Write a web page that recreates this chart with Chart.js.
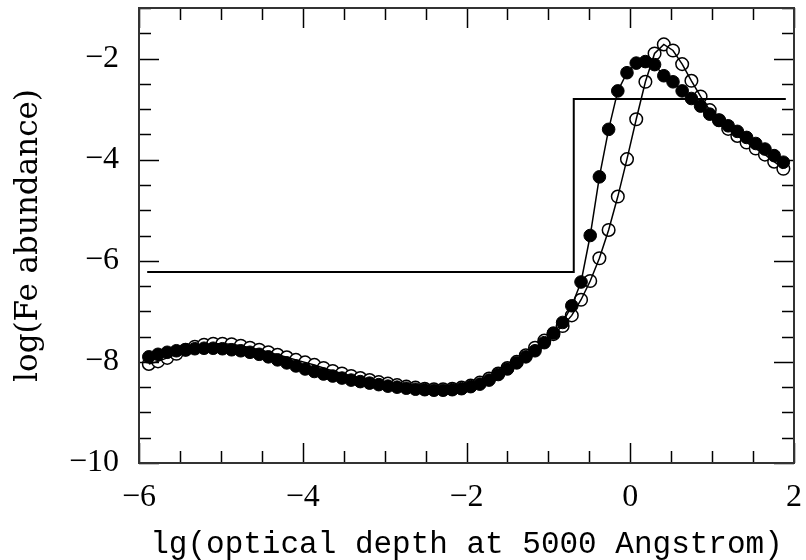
<!DOCTYPE html>
<html>
<head>
<meta charset="utf-8">
<title>Fe abundance</title>
<script src="https://cdn.jsdelivr.net/npm/chart.js@4.4.0/dist/chart.umd.min.js"></script>
<style>
  html, body { margin: 0; padding: 0; background: #fff; }
  #wrap { width: 806px; height: 560px; }
</style>
</head>
<body>
<div id="wrap"><canvas id="chart" width="806" height="560"></canvas></div>
<script>
// lg(tau_5000) depth grid, shared by both models
const depth = [
  -5.880, -5.768, -5.655, -5.543, -5.431, -5.318, -5.206, -5.094, -4.981, -4.869,
  -4.757, -4.645, -4.532, -4.420, -4.308, -4.195, -4.083, -3.971, -3.858, -3.746,
  -3.634, -3.521, -3.409, -3.297, -3.184, -3.072, -2.960, -2.848, -2.735, -2.623,
  -2.510, -2.398, -2.286, -2.174, -2.061, -1.949, -1.837, -1.724, -1.612, -1.500,
  -1.387, -1.275, -1.163, -1.050, -0.938, -0.826, -0.714, -0.601, -0.489, -0.377,
  -0.264, -0.152, -0.040, 0.073, 0.185, 0.297, 0.410, 0.522, 0.634, 0.747,
  0.859, 0.971, 1.084, 1.196, 1.308, 1.421, 1.533, 1.645, 1.758, 1.870
];

// filled circles
const feFilled = [
  -7.90, -7.85, -7.81, -7.78, -7.76, -7.74, -7.73, -7.73, -7.74, -7.76,
  -7.78, -7.81, -7.85, -7.90, -7.96, -8.02, -8.08, -8.14, -8.19, -8.24,
  -8.28, -8.32, -8.36, -8.39, -8.42, -8.45, -8.48, -8.50, -8.52, -8.54,
  -8.55, -8.56, -8.56, -8.55, -8.53, -8.49, -8.44, -8.36, -8.25, -8.14,
  -8.02, -7.90, -7.78, -7.62, -7.43, -7.22, -6.89, -6.42, -5.50, -4.34,
  -3.40, -2.64, -2.28, -2.09, -2.06, -2.12, -2.34, -2.46, -2.64, -2.79,
  -2.94, -3.10, -3.22, -3.33, -3.44, -3.56, -3.68, -3.79, -3.92, -4.05
];

// open circles
const feOpen = [
  -8.04, -7.99, -7.92, -7.84, -7.76, -7.70, -7.66, -7.64, -7.64, -7.65,
  -7.68, -7.72, -7.76, -7.81, -7.86, -7.91, -7.96, -8.01, -8.06, -8.12,
  -8.18, -8.23, -8.28, -8.32, -8.36, -8.40, -8.43, -8.46, -8.49, -8.51,
  -8.53, -8.54, -8.54, -8.53, -8.51, -8.47, -8.41, -8.33, -8.23, -8.12,
  -8.00, -7.87, -7.72, -7.58, -7.45, -7.29, -7.08, -6.77, -6.40, -5.95,
  -5.39, -4.73, -3.99, -3.20, -2.46, -1.90, -1.72, -1.84, -2.11, -2.44,
  -2.75, -3.02, -3.22, -3.39, -3.53, -3.66, -3.78, -3.90, -4.04, -4.18
];

// two-step model
const stepX = [-5.9, -0.69, -0.69, 1.9];
const stepY = [-6.22, -6.22, -2.80, -2.80];

const xTicks = [-6, -4, -2, 0, 2];
const yTicks = [-10, -8, -6, -4, -2];
const minorStep = 0.5;

const xTitle = 'lg(optical depth at 5000 Angstrom)';
const yTitle = 'log(Fe abundance)';

const pts = (xs, ys) => xs.map((x, i) => ({ x: x, y: ys[i] }));
const fmt = v => v < 0 ? '\u2212' + Math.abs(v) : String(v);

// inward ticks on all four sides + frame
const frameTicks = {
  id: 'frameTicks',
  afterDatasetsDraw(chart) {
    const { ctx, chartArea: a, scales: { x, y } } = chart;
    ctx.save();
    ctx.strokeStyle = '#000';
    ctx.lineWidth = 1.5;
    const seg = (x1, y1, x2, y2) => { ctx.beginPath(); ctx.moveTo(x1, y1); ctx.lineTo(x2, y2); ctx.stroke(); };
    for (let v = x.min; v <= x.max + 1e-9; v += minorStep) {
      const px = Math.round(x.getPixelForValue(v)) + 0.5;
      const len = xTicks.includes(v) ? 20 : 12;
      seg(px, a.bottom, px, a.bottom - len);
      seg(px, a.top, px, a.top + len);
    }
    for (let v = y.min; v <= y.max + 1e-9; v += minorStep) {
      const py = Math.round(y.getPixelForValue(v)) + 0.5;
      const len = yTicks.includes(v) ? 20 : 12;
      seg(a.left, py, a.left + len, py);
      seg(a.right, py, a.right - len, py);
    }
    ctx.strokeStyle = '#333';
    ctx.lineWidth = 2;
    ctx.strokeRect(a.left, a.top, a.right - a.left, a.bottom - a.top);
    ctx.restore();
  }
};

new Chart(document.getElementById('chart'), {
  type: 'scatter',
  data: {
    datasets: [
      {
        label: 'open',
        data: pts(depth, feOpen),
        showLine: false,
        pointRadius: 6.3,
        pointBackgroundColor: '#fff',
        pointBorderColor: '#000',
        pointBorderWidth: 1.5,
        order: 3
      },
      {
        label: 'open line',
        data: pts(depth, feOpen),
        showLine: true,
        pointRadius: 0,
        borderColor: '#000',
        borderWidth: 1.5,
        order: 2
      },
      {
        label: 'filled',
        data: pts(depth, feFilled),
        showLine: true,
        pointRadius: 6.3,
        pointBackgroundColor: '#000',
        pointBorderColor: '#000',
        pointBorderWidth: 1,
        borderColor: '#000',
        borderWidth: 1.5,
        order: 1
      },
      {
        label: 'step',
        data: pts(stepX, stepY),
        showLine: true,
        pointRadius: 0,
        borderColor: '#000',
        borderWidth: 2,
        order: 0
      }
    ]
  },
  options: {
    responsive: false,
    animation: false,
    devicePixelRatio: 1,
    layout: { padding: { top: 8, right: 12, left: 0, bottom: 0 } },
    plugins: { legend: { display: false }, tooltip: { enabled: false } },
    scales: {
      x: {
        type: 'linear', min: -6, max: 2,
        grid: { display: false, drawTicks: false },
        border: { display: false },
        afterBuildTicks: s => { s.ticks = xTicks.map(v => ({ value: v })); },
        afterFit: s => { s.height = 97; s.paddingLeft = 0; s.paddingRight = 0; },
        ticks: {
          font: { family: 'Liberation Serif', size: 32 },
          color: '#000', padding: 15, maxRotation: 0, autoSkip: false,
          callback: fmt
        },
        title: {
          display: true, text: xTitle, color: '#000',
          font: { family: 'Liberation Mono', size: 31, lineHeight: 1 },
          padding: { top: 0, bottom: 0 }
        }
      },
      y: {
        type: 'linear', min: -10, max: -1,
        grid: { display: false, drawTicks: false },
        border: { display: false },
        afterBuildTicks: s => { s.ticks = yTicks.map(v => ({ value: v })); },
        afterFit: s => { s.width = 139; s.paddingTop = 0; s.paddingBottom = 0; },
        ticks: {
          font: { family: 'Liberation Serif', size: 32 },
          color: '#000', padding: 20,
          callback: fmt
        },
        title: {
          display: true, text: yTitle, color: '#000',
          font: { family: 'DejaVu Serif', size: 31 },
          padding: { top: 10, bottom: 0 }
        }
      }
    }
  },
  plugins: [frameTicks]
});
</script>
</body>
</html>
